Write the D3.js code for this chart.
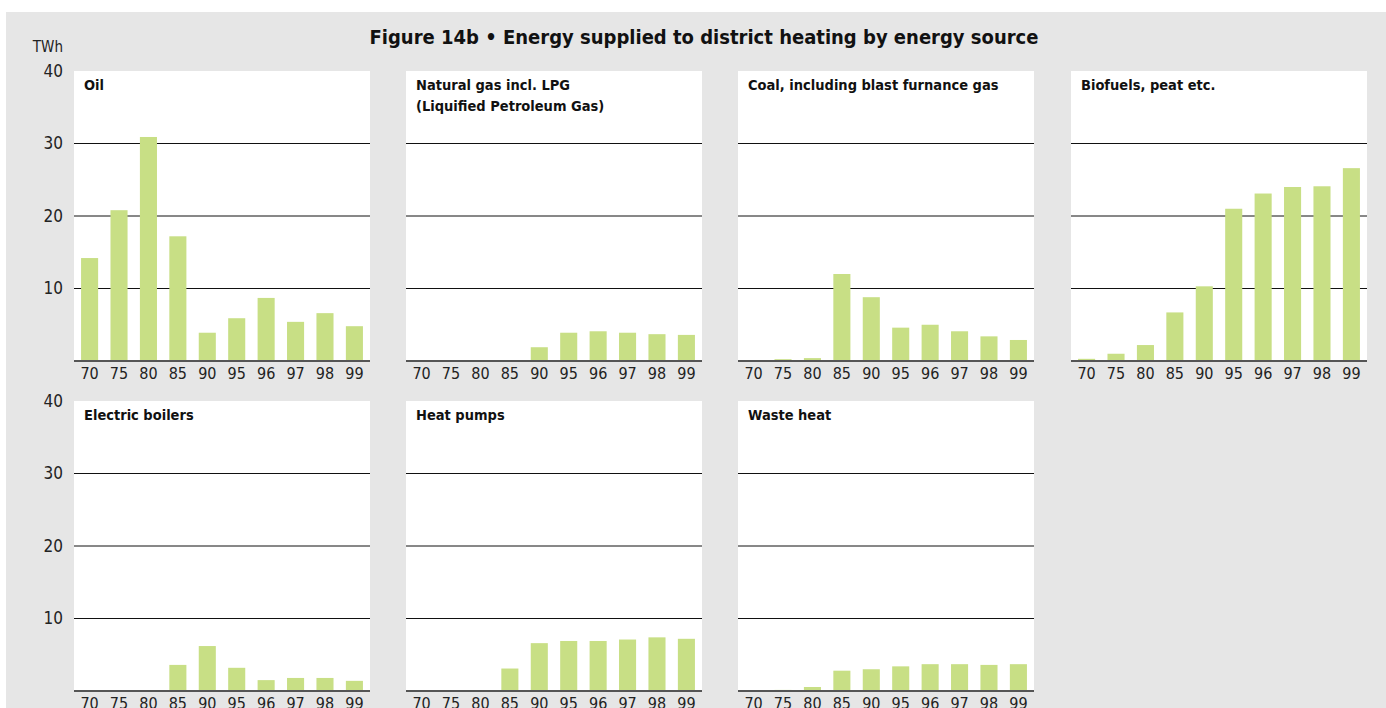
<!DOCTYPE html>
<html>
<head>
<meta charset="utf-8">
<script src="https://cdn.jsdelivr.net/npm/d3@7"></script>
<style>
  body { margin: 0; background: #fff; }
  text { font-family: "DejaVu Sans Condensed", "DejaVu Sans", sans-serif; font-stretch: condensed; }
</style>
</head>
<body>
<div id="chart"></div>
<script>
const years = ["70", "75", "80", "85", "90", "95", "96", "97", "98", "99"];
const yTicks = [10, 20, 30, 40];

const oil = [14.2, 20.8, 30.9, 17.2, 3.9, 5.9, 8.7, 5.4, 6.6, 4.8];
const naturalGas = [0, 0, 0, 0, 1.9, 3.9, 4.1, 3.9, 3.7, 3.6];
const coal = [0, 0.25, 0.4, 12.0, 8.8, 4.6, 5.0, 4.1, 3.4, 2.9];
const biofuels = [0.3, 1.0, 2.2, 6.7, 10.3, 21.0, 23.1, 24.0, 24.1, 26.6];
const electricBoilers = [0, 0, 0, 3.6, 6.2, 3.2, 1.5, 1.8, 1.8, 1.4];
const heatPumps = [0, 0, 0, 3.1, 6.6, 6.9, 6.9, 7.1, 7.4, 7.2];
const wasteHeat = [0, 0.15, 0.55, 2.8, 3.0, 3.4, 3.7, 3.7, 3.6, 3.7];

const panels = [
  { title: ["Oil"], values: oil },
  { title: ["Natural gas incl. LPG", "(Liquified Petroleum Gas)"], values: naturalGas },
  { title: ["Coal, including blast furnance gas"], values: coal },
  { title: ["Biofuels, peat etc."], values: biofuels },
  { title: ["Electric boilers"], values: electricBoilers },
  { title: ["Heat pumps"], values: heatPumps },
  { title: ["Waste heat"], values: wasteHeat }
];

const W = 1386, H = 708;
const panelW = 296, panelH = 290;
const colX = [74, 406, 738, 1071];
const rowY = [71, 401];

const svg = d3.select("#chart").append("svg")
    .attr("width", W)
    .attr("height", H);

// grey backdrop
svg.append("rect")
    .attr("x", 6).attr("y", 12)
    .attr("width", W - 6).attr("height", H - 12)
    .attr("fill", "#e6e6e6");

svg.append("text")
    .attr("x", 704).attr("y", 44)
    .attr("text-anchor", "middle")
    .attr("font-size", 20)
    .attr("font-weight", "bold")
    .attr("fill", "#111")
    .text("Figure 14b \u2022 Energy supplied to district heating by energy source");

svg.append("text")
    .attr("x", 63).attr("y", 52)
    .attr("text-anchor", "end")
    .attr("font-size", 15)
    .attr("fill", "#222")
    .text("TWh");

const x = d3.scaleBand()
    .domain(years)
    .range([0, panelW])
    .paddingInner(0.42)
    .paddingOuter(0.24);

const y = d3.scaleLinear()
    .domain([0, 40])
    .range([panelH, 0]);

panels.forEach((p, i) => {
    const col = i % 4, row = Math.floor(i / 4);
    const g = svg.append("g")
        .attr("transform", `translate(${colX[col]},${rowY[row]})`);

    g.append("rect")
        .attr("width", panelW)
        .attr("height", panelH)
        .attr("fill", "#fff");

    // gridlines
    g.selectAll(".grid")
        .data(yTicks.filter(t => t < 40))
        .enter()
        .append("line")
            .attr("x1", 0).attr("x2", panelW)
            .attr("y1", d => y(d)).attr("y2", d => y(d))
            .attr("stroke", "#111")
            .attr("stroke-width", 1);

    g.selectAll(".bar")
        .data(p.values)
        .enter()
        .append("rect")
            .attr("x", (d, j) => x(years[j]))
            .attr("y", d => y(d))
            .attr("width", x.bandwidth())
            .attr("height", d => panelH - y(d))
            .attr("fill", "#c8df85");

    // x axis
    g.append("line")
        .attr("x1", 0).attr("x2", panelW)
        .attr("y1", panelH).attr("y2", panelH)
        .attr("stroke", "#555")
        .attr("stroke-width", 2);

    g.selectAll(".xlab")
        .data(years)
        .enter()
        .append("text")
            .attr("x", d => x(d) + x.bandwidth() / 2)
            .attr("y", panelH + 18)
            .attr("text-anchor", "middle")
            .attr("font-size", 16)
            .attr("fill", "#222")
            .text(d => d);

    p.title.forEach((t, k) => {
        g.append("text")
            .attr("x", 10)
            .attr("y", 19 + k * 21)
            .attr("font-size", 14.5)
            .attr("font-weight", "bold")
            .attr("fill", "#111")
            .text(t);
    });

    if (col === 0) {
        g.selectAll(".ylab")
            .data(yTicks)
            .enter()
            .append("text")
                .attr("x", -11)
                .attr("y", d => y(d))
                .attr("dy", "0.35em")
                .attr("text-anchor", "end")
                .attr("font-size", 17)
                .attr("fill", "#222")
                .text(d => d);
    }
});
</script>
</body>
</html>
